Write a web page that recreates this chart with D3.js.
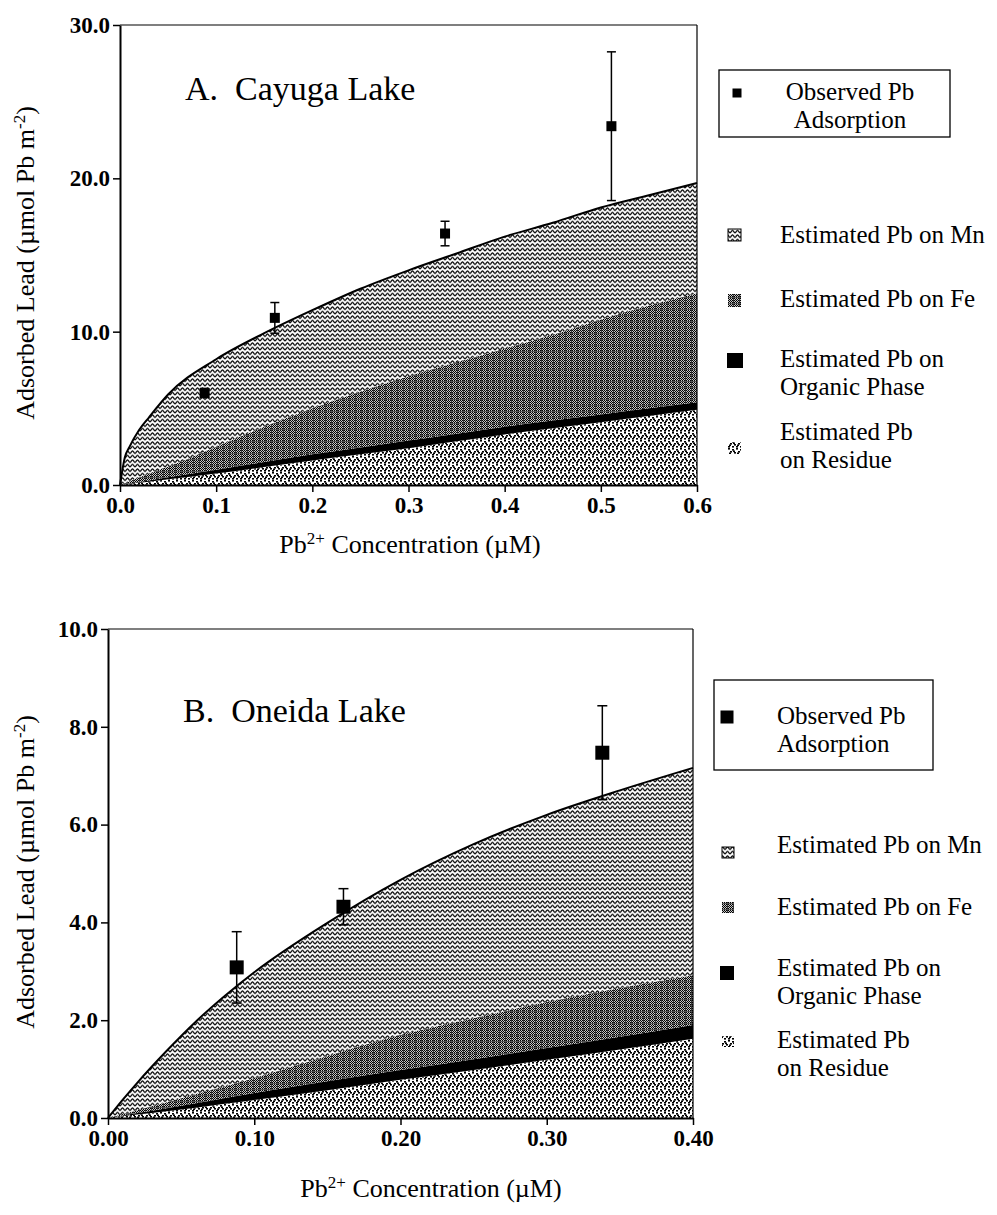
<!DOCTYPE html>
<html>
<head>
<meta charset="utf-8">
<script src="https://cdn.jsdelivr.net/npm/d3@7"></script>
<style>
  body { margin: 0; background: #fff; }
  text { font-family: "Liberation Serif", "Times New Roman", serif; fill: #000; }
  .tick text { font-weight: bold; font-size: 23px; }
  .lbl { font-size: 25px; }
</style>
</head>
<body>
<svg id="chart" width="997" height="1215"></svg>
<script>
// ---- panel A, Cayuga Lake ----
const cayugaConc    = [0, 0.005, 0.01, 0.02, 0.03, 0.05, 0.1, 0.15, 0.2, 0.25, 0.3, 0.35, 0.4, 0.45, 0.5, 0.55, 0.6];
const cayugaResidue = [0, 0.035, 0.07, 0.15, 0.22, 0.37, 0.75, 1.17, 1.6, 2.0, 2.4, 2.85, 3.3, 3.7, 4.1, 4.5, 4.9];
const cayugaOrganic = [0, 0.015, 0.03, 0.05, 0.08, 0.13, 0.25, 0.33, 0.4, 0.45, 0.5, 0.5, 0.5, 0.5, 0.5, 0.5, 0.5];
const cayugaFe      = [0, 0.08, 0.15, 0.3, 0.45, 0.7, 1.5, 2.3, 3.0, 3.65, 4.2, 4.65, 5.1, 5.6, 6.2, 6.7, 7.1];
const cayugaMn      = [0, 1.67, 2.25, 3.1, 3.65, 4.7, 5.7, 6.1, 6.4, 6.7, 6.9, 7.1, 7.3, 7.3, 7.3, 7.2, 7.2];
const cayugaObsConc = [0.088, 0.161, 0.338, 0.511];
const cayugaObsPb   = [6.0, 10.9, 16.4, 23.4];
const cayugaObsErr  = [0.3, 1.0, 0.8, 4.85];
const cayugaXTicks  = [0, 0.1, 0.2, 0.3, 0.4, 0.5, 0.6];
const cayugaYTicks  = [0, 10, 20, 30];

// ---- panel B, Oneida Lake ----
const oneidaConc    = [0, 0.01, 0.02, 0.04, 0.06, 0.08, 0.1, 0.15, 0.2, 0.25, 0.3, 0.35, 0.4];
const oneidaResidue = [0, 0.035, 0.07, 0.14, 0.21, 0.29, 0.37, 0.57, 0.78, 0.98, 1.19, 1.40, 1.62];
const oneidaOrganic = [0, 0.015, 0.03, 0.06, 0.09, 0.12, 0.14, 0.18, 0.20, 0.22, 0.24, 0.26, 0.28];
const oneidaFe      = [0, 0.03, 0.06, 0.12, 0.19, 0.24, 0.31, 0.52, 0.72, 0.84, 0.94, 1.0, 1.02];
const oneidaMn      = [0, 0.29, 0.56, 1.05, 1.48, 1.85, 2.16, 2.72, 3.17, 3.56, 3.83, 4.04, 4.24];
const oneidaObsConc = [0.088, 0.161, 0.338];
const oneidaObsPb   = [3.08, 4.32, 7.47];
const oneidaObsErr  = [0.73, 0.37, 0.96];
const oneidaXTicks  = [0, 0.1, 0.2, 0.3, 0.4];
const oneidaYTicks  = [0, 2, 4, 6, 8, 10];

const layerKeys = ["residue", "organic", "fe", "mn"];
const layerFill = {residue: "url(#pat-res)", organic: "#000", fe: "url(#pat-fe)", mn: "url(#pat-mn)"};

var svg = d3.select("#chart");
svg.append("rect").attr("width", 997).attr("height", 1215).attr("fill", "#fff");

// ---- fill patterns ----
var defs = svg.append("defs");

var pMn = defs.append("pattern").attr("id", "pat-mn")
  .attr("patternUnits", "userSpaceOnUse").attr("width", 5).attr("height", 4.5);
pMn.append("rect").attr("width", 5).attr("height", 4.5).attr("fill", "#fff");
pMn.append("path")
  .attr("d", "M0,3.4 C1,3.4 1.5,0.9 2.5,0.9 C3.5,0.9 4,3.4 5,3.4")
  .attr("fill", "none").attr("stroke", "#000").attr("stroke-width", 1.25);

var pFe = defs.append("pattern").attr("id", "pat-fe")
  .attr("patternUnits", "userSpaceOnUse").attr("width", 6).attr("height", 6);
pFe.append("rect").attr("width", 6).attr("height", 6).attr("fill", "#c4c4c4");
for (var i = 0; i < 6; i++) {
  for (var j = 0; j < 6; j++) {
    if ((i + j) % 2 === 0) pFe.append("rect").attr("x", i).attr("y", j).attr("width", 1).attr("height", 1).attr("fill", "#000");
  }
}
pFe.append("rect").attr("x", 1).attr("y", 0).attr("width", 1).attr("height", 6).attr("fill", "#333");
pFe.append("rect").attr("x", 0).attr("y", 3).attr("width", 6).attr("height", 1).attr("fill", "#555");

var pRes = defs.append("pattern").attr("id", "pat-res")
  .attr("patternUnits", "userSpaceOnUse").attr("width", 8).attr("height", 8);
pRes.append("rect").attr("width", 8).attr("height", 8).attr("fill", "#fff");
[[0,0],[4,1],[2,3],[6,4],[0,6],[4,6],[1,4.5],[5,2.5]].forEach(function(p) {
  pRes.append("rect").attr("x", p[0]).attr("y", p[1]).attr("width", 2).attr("height", 1.6).attr("fill", "#000");
});

function buildRows(conc, res, org, fe, mn) {
  return conc.map(function(c, i) {
    return {x: c, residue: res[i], organic: org[i], fe: fe[i], mn: mn[i]};
  });
}

// one <text> per block, one tspan per line
function multiLine(sel, x, y, lines, anchor) {
  var t = sel.append("text").attr("class", "lbl").attr("x", x).attr("y", y)
    .attr("text-anchor", anchor || "start");
  lines.forEach(function(s, i) {
    t.append("tspan").attr("x", x).attr("dy", i === 0 ? 0 : 28).text(s);
  });
  return t;
}

function drawPanel(p) {
  var x = d3.scaleLinear().domain(p.xDomain).range([p.left, p.right]);
  var y = d3.scaleLinear().domain(p.yDomain).range([p.bottom, p.top]);
  var g = svg.append("g");

  var series = d3.stack().keys(layerKeys)(p.rows);
  var area = d3.area()
    .x(function(d) { return x(d.data.x); })
    .y0(function(d) { return y(d[0]); })
    .y1(function(d) { return y(d[1]); })
    .curve(d3.curveMonotoneX);

  g.selectAll("path.layer")
    .data(series)
    .enter()
    .append("path")
    .attr("class", "layer")
    .attr("d", area)
    .attr("fill", function(d) { return layerFill[d.key]; });

  // outline on top of the estimated total
  var total = d3.line()
    .x(function(d) { return x(d.x); })
    .y(function(d) { return y(d.residue + d.organic + d.fe + d.mn); })
    .curve(d3.curveMonotoneX);
  g.append("path").datum(p.rows).attr("d", total)
    .attr("fill", "none").attr("stroke", "#000").attr("stroke-width", 2);

  // frame: thin top and right
  g.append("line").attr("x1", p.left).attr("x2", p.right).attr("y1", p.top).attr("y2", p.top)
    .attr("stroke", "#000").attr("stroke-width", 1.2);
  g.append("line").attr("x1", p.right).attr("x2", p.right).attr("y1", p.top).attr("y2", p.bottom)
    .attr("stroke", "#000").attr("stroke-width", 1.2);

  var xAxis = g.append("g").attr("transform", "translate(0," + p.bottom + ")")
    .call(d3.axisBottom(x).tickValues(p.xTicks).tickFormat(d3.format(p.xFmt))
      .tickSize(7).tickSizeOuter(0).tickPadding(5));
  var yAxis = g.append("g").attr("transform", "translate(" + p.left + ",0)")
    .call(d3.axisLeft(y).tickValues(p.yTicks).tickFormat(d3.format(".1f"))
      .tickSize(7).tickSizeOuter(0).tickPadding(3));
  [xAxis, yAxis].forEach(function(a) {
    a.select(".domain").attr("stroke-width", 2);
    a.selectAll(".tick line").attr("stroke-width", 1.5);
    a.selectAll(".tick text").style("font-family", "'Liberation Serif', serif");
  });

  // observed points with error bars
  var obs = p.obsConc.map(function(c, i) { return {x: c, v: p.obsPb[i], e: p.obsErr[i]}; });
  var pts = g.selectAll("g.obs").data(obs).enter().append("g").attr("class", "obs");
  pts.append("line")
    .attr("x1", function(d) { return x(d.x); }).attr("x2", function(d) { return x(d.x); })
    .attr("y1", function(d) { return y(d.v - d.e); }).attr("y2", function(d) { return y(d.v + d.e); })
    .attr("stroke", "#000").attr("stroke-width", 1.5);
  [-1, 1].forEach(function(s) {
    pts.append("line")
      .attr("x1", function(d) { return x(d.x) - p.cap; }).attr("x2", function(d) { return x(d.x) + p.cap; })
      .attr("y1", function(d) { return y(d.v + s * d.e); }).attr("y2", function(d) { return y(d.v + s * d.e); })
      .attr("stroke", "#000").attr("stroke-width", 1.5);
  });
  pts.append("rect")
    .attr("x", function(d) { return x(d.x) - p.mk / 2; })
    .attr("y", function(d) { return y(d.v) - p.mk / 2; })
    .attr("width", p.mk).attr("height", p.mk).attr("fill", "#000");

  // panel title
  g.append("text").attr("x", p.titleX).attr("y", p.titleY)
    .style("font-size", "34px").style("white-space", "pre")
    .text(p.title);

  // axis titles
  var yt = g.append("text").attr("class", "lbl")
    .attr("transform", "translate(34," + p.yTitleY + ") rotate(-90)")
    .attr("text-anchor", "middle")
    .style("font-size", "26px");
  yt.append("tspan").text("Adsorbed Lead (\u00b5mol Pb m");
  yt.append("tspan").attr("dy", -9).style("font-size", "17px").text("-2");
  yt.append("tspan").attr("dy", 9).text(")");

  var xt = g.append("text").attr("class", "lbl")
    .attr("x", p.xTitleX).attr("y", p.xTitleY).attr("text-anchor", "middle")
    .style("font-size", "26px");
  xt.append("tspan").text("Pb");
  xt.append("tspan").attr("dy", -9).style("font-size", "17px").text("2+");
  xt.append("tspan").attr("dy", 9).text(" Concentration (\u00b5M)");

  // legend
  var L = p.legend;
  var lg = g.append("g");
  lg.append("rect").attr("x", L.box[0]).attr("y", L.box[1]).attr("width", L.box[2]).attr("height", L.box[3])
    .attr("fill", "none").attr("stroke", "#000").attr("stroke-width", 1.3);
  lg.append("rect").attr("x", L.mark[0] - L.mark[2] / 2).attr("y", L.mark[1] - L.mark[2] / 2)
    .attr("width", L.mark[2]).attr("height", L.mark[2]).attr("fill", "#000");
  multiLine(lg, L.obsX, L.obsY, ["Observed Pb", "Adsorption"], L.obsAnchor);

  var entries = lg.selectAll("g.legenditem")
    .data(L.items)
    .enter()
    .append("g")
    .attr("class", "legenditem");
  entries.append("rect")
    .attr("x", function(d) { return d.icon[0]; })
    .attr("y", function(d) { return d.icon[1]; })
    .attr("width", function(d) { return d.icon[2]; })
    .attr("height", function(d) { return d.icon[3]; })
    .attr("fill", function(d) { return layerFill[d.key]; })
    .attr("stroke", function(d) { return d.key === "mn" ? "#000" : "none"; })
    .attr("stroke-width", 1);
  entries.each(function(d) {
    multiLine(d3.select(this), L.textX, d.y, d.lines);
  });
}

drawPanel({
  rows: buildRows(cayugaConc, cayugaResidue, cayugaOrganic, cayugaFe, cayugaMn),
  obsConc: cayugaObsConc, obsPb: cayugaObsPb, obsErr: cayugaObsErr,
  xDomain: [0, 0.6], yDomain: [0, 30], xTicks: cayugaXTicks, yTicks: cayugaYTicks, xFmt: ".1f",
  left: 120, right: 697, top: 25, bottom: 485,
  mk: 10, cap: 4.5,
  title: "A.  Cayuga Lake", titleX: 185, titleY: 100,
  yTitleY: 263, xTitleX: 410, xTitleY: 553,
  legend: {
    box: [719, 70, 231, 67], mark: [737, 93, 9],
    obsX: 850, obsY: 100, obsAnchor: "middle",
    textX: 780,
    items: [
      {key: "mn", icon: [728, 229, 13, 12], lines: ["Estimated Pb on Mn"], y: 243},
      {key: "fe", icon: [728, 294, 13, 13], lines: ["Estimated Pb on Fe"], y: 307},
      {key: "organic", icon: [727, 353, 16, 15], lines: ["Estimated Pb on", "Organic Phase"], y: 367},
      {key: "residue", icon: [728, 442, 13, 12], lines: ["Estimated Pb", "on Residue"], y: 440}
    ]
  }
});

drawPanel({
  rows: buildRows(oneidaConc, oneidaResidue, oneidaOrganic, oneidaFe, oneidaMn),
  obsConc: oneidaObsConc, obsPb: oneidaObsPb, obsErr: oneidaObsErr,
  xDomain: [0, 0.4], yDomain: [0, 10], xTicks: oneidaXTicks, yTicks: oneidaYTicks, xFmt: ".2f",
  left: 108, right: 693, top: 629, bottom: 1118,
  mk: 14, cap: 5,
  title: "B.  Oneida Lake", titleX: 183, titleY: 722,
  yTitleY: 872, xTitleX: 431, xTitleY: 1197,
  legend: {
    box: [714, 680, 219, 90], mark: [727, 717, 13],
    obsX: 777, obsY: 724, obsAnchor: "start",
    textX: 777,
    items: [
      {key: "mn", icon: [722, 847, 12, 11], lines: ["Estimated Pb on Mn"], y: 853},
      {key: "fe", icon: [722, 902, 12, 11], lines: ["Estimated Pb on Fe"], y: 915},
      {key: "organic", icon: [720, 966, 14, 14], lines: ["Estimated Pb on", "Organic Phase"], y: 976},
      {key: "residue", icon: [722, 1036, 12, 11], lines: ["Estimated Pb", "on Residue"], y: 1048}
    ]
  }
});
</script>
</body>
</html>
